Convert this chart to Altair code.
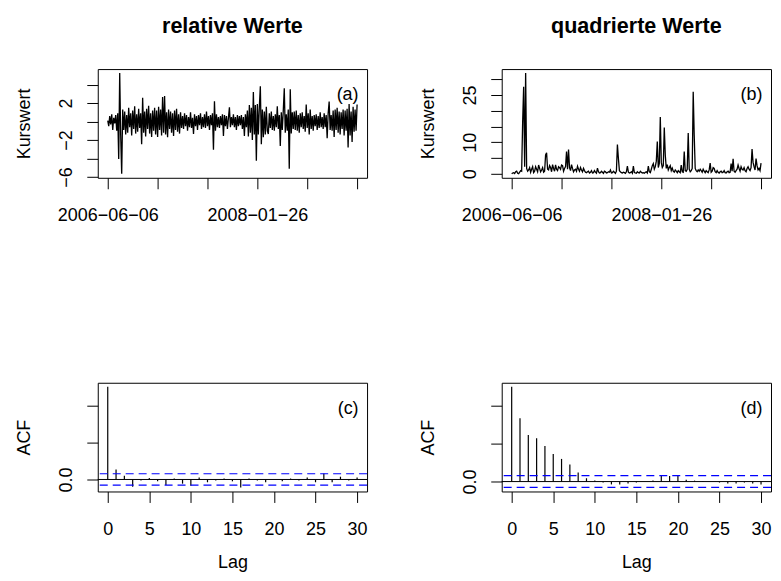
import altair as alt
import pandas as pd
import numpy as np

FONT = "Liberation Sans"

# relative values (a), read every 4th index (index 0..1000)
rel_values = [
    0.1, -0.5, 0.6, -0.3, 0.8, -0.9, 0.4, -0.2, 0.7, -1.0,
    0.9, -4.05, 5.25, -1.5, -5.65, 1.3, -0.9, 1.1, -1.4, 0.7,
    -1.2, 1.5, -0.6, 0.9, -1.5, 1.2, -0.8, 1.67, -1.3, 0.8,
    -1.1, 1.4, -0.7, 0.9, -2.44, 2.58, -1.2, 1.1, -1.6, 1.4,
    -0.8, 1.7, -1.3, 0.9, -1.67, 1.2, -1.0, 1.5, -1.4, 1.2,
    -1.67, 1.6, -0.9, 1.3, -1.5, 2.65, -1.2, 2.77, -1.4, 1.0,
    -1.7, 1.3, -0.8, 1.1, -1.2, 0.9, -1.55, 1.2, -0.9, 1.4,
    -1.1, 0.8, -1.3, 1.0, -0.7, 0.6, -0.8, 0.9, -0.5, 0.7,
    -1.0, 0.5, -0.6, 1.0, -0.7, 0.4, -1.34, 0.8, -0.5, 0.6,
    -0.9, 0.7, -0.4, 0.9, -0.8, 0.5, -0.6, 0.8, -0.7, 1.1,
    -0.5, 0.6, -0.9, 0.7, -0.4, 0.9, -3.05, 2.2, -1.0, 0.8,
    -0.6, 0.5, -0.7, 0.6, -0.4, 0.8, -1.55, 0.7, -0.5, 0.6,
    -0.8, 0.4, 1.55, -0.6, 0.5, -0.4, 0.8, -0.6, 0.5, -0.9,
    0.7, -0.5, 0.6, -0.4, 0.7, -0.8, 0.5, -1.55, 0.8, -0.6,
    1.2, -1.6, 1.8, -1.2, 1.5, -2.0, 3.2, -1.4, 1.8, -4.24,
    1.9, -1.4, 1.6, 3.83, -2.44, 1.3, -1.7, 1.1, -1.4, 1.6,
    -1.0, -1.34, 0.9, -0.7, 1.1, -0.9, 0.6, -1.0, 0.8, -0.6,
    1.67, -0.8, 0.7, -2.65, 1.0, -0.9, 1.2, 3.6, -1.2, 0.8,
    -1.0, 1.3, -5.1, 3.5, -1.3, 1.0, -0.8, 1.1, -0.9, 1.2,
    -1.0, 0.7, -1.2, 0.9, -0.6, 1.0, -0.8, 0.6, -1.1, 1.84,
    -0.7, 0.9, -1.4, 1.3, -0.8, 0.6, -1.0, 0.7, -0.5, 0.8,
    -0.9, 0.6, -0.7, 1.0, -0.6, 0.5, -0.8, 0.9, -0.6, 0.7,
    -1.8, 0.9, 2.17, -0.9, 0.7, -1.0, 1.2, -1.67, 1.3, -0.9,
    1.5, -1.2, 1.1, -1.4, 1.0, -0.8, 1.3, -1.5, 1.2, -1.0,
    1.4, -2.8, 1.9, -1.5, 1.1, -2.2, 1.6, -1.1, 1.3, -1.0,
    1.84,
]
index_step = 4

date_ticks = [0, 200, 400, 600, 800, 1000]
date_label_expr = "datum.value == 0 ? '2006\u221206\u221206' : datum.value == 600 ? '2008\u221201\u221226' : ''"

acf_rel = [1.0, 0.108, 0.04, -0.079, -0.01, 0.015, -0.02, -0.06, 0.01, -0.045,
           -0.068, 0.02, -0.03, -0.01, 0.01, -0.02, -0.086, 0.01, -0.01, -0.03,
           0.0, -0.02, 0.01, -0.01, 0.02, -0.03, 0.065, -0.03, 0.03, -0.01, 0.02]
acf_sq = [1.0, 0.668, 0.492, 0.457, 0.376, 0.291, 0.239, 0.179, 0.095, 0.035,
          0.01, -0.01, -0.03, -0.03, -0.02, -0.01, 0.0, 0.01, 0.07, 0.06,
          0.065, 0.02, 0.01, 0.005, 0.0, -0.01, -0.02, -0.02, -0.01, -0.02, -0.03]
clim = 0.062
lag_ticks = [0, 5, 10, 15, 20, 25, 30]
acf_ticks = [0, 0.2, 0.4, 0.6, 0.8, 1.0]
acf_label_expr = "datum.value == 0 ? '0.0' : datum.value == 0.6 ? '0.6' : ''"

W, H = 270, 109
TICK = 11


def rpad(lo, hi):
    r = hi - lo
    return [lo - 0.04 * r, hi + 0.04 * r]


rel = np.array(rel_values)
df_a = pd.DataFrame({"t": np.arange(len(rel)) * index_step, "v": rel})
df_b = pd.DataFrame({"t": df_a["t"], "v": rel ** 2})

xdom_ts = rpad(0, 1000)


def yaxis(title, values, expr):
    return alt.Axis(values=values, labelExpr=expr, title=title,
                    labelAngle=-90, labelAlign="center", labelBaseline="alphabetic",
                    labelPadding=15, titleAngle=270, titleX=-68, titleY=H / 2,
                    titleAlign="center", titleBaseline="alphabetic")


def tag_layer(tag):
    return alt.Chart(pd.DataFrame({"tag": [tag]})).mark_text(
        align="right", baseline="middle", font=FONT, fontSize=18, color="black"
    ).encode(x=alt.value(W - 8.5), y=alt.value(26), text="tag:N")


def title_params(text):
    return alt.TitleParams(text, font=FONT, fontSize=21.6, fontWeight="bold", color="black",
                           anchor="middle", baseline="alphabetic", offset=14.5)


def ts_panel(df, ydom, yvals, yexpr, tag, title):
    line = alt.Chart(df).mark_line(color="black", strokeWidth=1.3).encode(
        x=alt.X("t:Q", scale=alt.Scale(domain=xdom_ts, nice=False, zero=False),
                axis=alt.Axis(values=date_ticks, labelExpr=date_label_expr, title=None,
                              labelBaseline="alphabetic", labelPadding=32)),
        y=alt.Y("v:Q", scale=alt.Scale(domain=ydom, nice=False, zero=False),
                axis=yaxis("Kurswert", yvals, yexpr)),
    )
    return alt.layer(line, tag_layer(tag)).properties(width=W, height=H, title=title_params(title))


def acf_panel(vals, tag):
    df = pd.DataFrame({"lag": list(range(len(vals))), "acf": vals, "zero": 0.0})
    ydom = rpad(min(min(vals), -clim), max(max(vals), clim))
    xs = alt.Scale(domain=rpad(0, 30), nice=False, zero=False)
    ys = alt.Scale(domain=ydom, nice=False, zero=False)
    bars = alt.Chart(df).mark_rule(color="black", strokeWidth=1.2).encode(
        x=alt.X("lag:Q", scale=xs,
                axis=alt.Axis(values=lag_ticks, title="Lag", labelBaseline="alphabetic",
                              labelPadding=32, titleX=W / 2, titleY=76,
                              titleAlign="center", titleBaseline="alphabetic")),
        y=alt.Y("acf:Q", scale=ys, axis=yaxis("ACF", acf_ticks, acf_label_expr)),
        y2="zero:Q",
    )
    zero = alt.Chart(pd.DataFrame({"z": [0.0]})).mark_rule(color="black", strokeWidth=1).encode(
        y=alt.Y("z:Q", scale=ys))
    bands = alt.Chart(pd.DataFrame({"c": [clim, -clim]})).mark_rule(
        color="#0000FF", strokeWidth=1.2, strokeDash=[8, 5]).encode(y=alt.Y("c:Q", scale=ys))
    return alt.layer(bars, zero, bands, tag_layer(tag)).properties(width=W, height=H)


pa = ts_panel(df_a, rpad(rel.min(), rel.max()), [-6, -4, -2, 0, 2, 4],
              "datum.value == 2 ? '2' : datum.value == -2 ? '\u22122' : datum.value == -6 ? '\u22126' : ''",
              "(a)", "relative Werte")
pb = ts_panel(df_b, rpad(0, float((rel ** 2).max())), [0, 5, 10, 15, 20, 25, 30],
              "datum.value == 0 ? '0' : datum.value == 10 ? '10' : datum.value == 25 ? '25' : ''",
              "(b)", "quadrierte Werte")
pc = acf_panel(acf_rel, "(c)")
pd_ = acf_panel(acf_sq, "(d)")

row1 = alt.HConcatChart(hconcat=[pa, pb], spacing=135, bounds="flush")
row2 = alt.HConcatChart(hconcat=[pc, pd_], spacing=135, bounds="flush")

# nested concat groups count as zero-height under flush bounds: spacing = panel height + gap
chart = alt.VConcatChart(vconcat=[row1, row2], spacing=H + 205.5, bounds="flush",
                         padding={"left": 7, "top": 6.5, "right": 0, "bottom": 0},
                         background="white").configure_view(
    stroke="black", strokeWidth=1
).configure_axis(
    grid=False, domain=False, tickSize=TICK, tickColor="black", tickWidth=1,
    labelFont=FONT, labelFontSize=18, labelColor="black", labelFlush=False, labelOverlap=False,
    titleFont=FONT, titleFontSize=18, titleFontWeight="normal", titleColor="black"
)

chart.save("out.html", embed_options={"renderer": "svg", "actions": False})
